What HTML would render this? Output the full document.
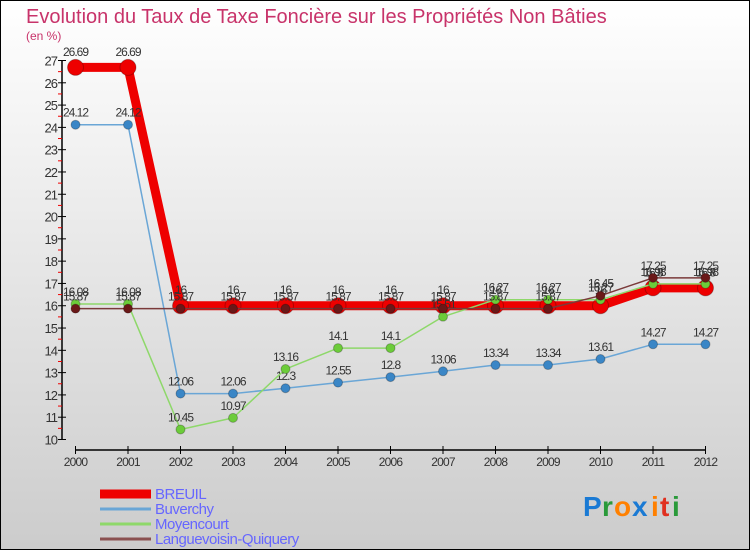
<!DOCTYPE html>
<html><head><meta charset="utf-8"><style>
body{margin:0;width:750px;height:550px;overflow:hidden}
svg{display:block;font-family:"Liberation Sans",sans-serif}
</style></head><body>
<svg width="750" height="550" viewBox="0 0 750 550">
<defs><linearGradient id="bg" x1="0" y1="0" x2="0" y2="1"><stop offset="0" stop-color="#ffffff"/><stop offset="1" stop-color="#cccccc"/></linearGradient></defs>
<rect x="0.5" y="0.5" width="749" height="549" fill="url(#bg)" stroke="#000"/>
<text x="26" y="23" font-size="20" fill="#c8336a">Evolution du Taux de Taxe Foncière sur les Propriétés Non Bâties</text>
<text x="26" y="40" font-size="12" fill="#c8336a">(en %)</text>
<g id="axes"></g>
<g id="series"></g>
<g id="legend"></g>
<g font-size="28" font-weight="bold">
<text x="583" y="516" fill="#1a7ad4">P</text><text x="602" y="516" fill="#2a9a3a">r</text><text x="614" y="516" fill="#ff8000">o</text><text x="632" y="516" fill="#1a7ad4">x</text><text x="651" y="516" fill="#ff8000">i</text><text x="660" y="516" fill="#e03020">t</text><text x="672" y="516" fill="#2a9a3a">i</text>
</g>
</svg>
<script>
const years=["2000","2001","2002","2003","2004","2005","2006","2007","2008","2009","2010","2011","2012"];
const breuil=[26.69,26.69,16,16,16,16,16,16,16,16,16,16.8,16.8];
const buverchy=[24.12,24.12,12.06,12.06,12.3,12.55,12.8,13.06,13.34,13.34,13.61,14.27,14.27];
const moyencourt=[16.08,16.08,10.45,10.97,13.16,14.1,14.1,15.51,16.27,16.27,16.27,16.98,16.98];
const langue=[15.87,15.87,15.87,15.87,15.87,15.87,15.87,15.87,15.87,15.87,16.45,17.25,17.25];
const yTicks=[10,11,12,13,14,15,16,17,18,19,20,21,22,23,24,25,26,27];
const NS="http://www.w3.org/2000/svg";
const X=i=>75.5+i*(705.5-75.5)/12;
const Y=v=>439.5-(v-10)*(379/17);
function mk(t,a,p){const e=document.createElementNS(NS,t);for(const k in a)e.setAttribute(k,a[k]);p.appendChild(e);return e;}
const ax=document.getElementById('axes');
mk('line',{x1:62,y1:Y(27),x2:62,y2:Y(10),stroke:'#000','stroke-width':1.5},ax);
yTicks.forEach(v=>{
 mk('line',{x1:58,x2:66,y1:Y(v),y2:Y(v),stroke:'#000'},ax);
 if(v<27)mk('line',{x1:58,x2:62,y1:Y(v+0.5),y2:Y(v+0.5),stroke:'#e00'},ax);
 const t=mk('text',{x:57,y:Y(v)+5,'font-size':13,'text-anchor':'end',fill:'#333','letter-spacing':'-1'},ax);
 
 
 t.textContent=v;
});
mk('line',{x1:X(0),x2:X(12),y1:450,y2:450,stroke:'#000','stroke-width':1.5},ax);
years.forEach((y,i)=>{
 mk('line',{x1:X(i),x2:X(i),y1:446,y2:454,stroke:'#000'},ax);
 const t=mk('text',{x:X(i),y:466,'font-size':12,'text-anchor':'middle',fill:'#333','letter-spacing':'-0.8'},ax);
 
 
 t.textContent=y;
});
const S=[
 {n:'langue',d:langue,c:'#7a3a3a',w:1.5,r:4.5,f:'#6a1818'},
 {n:'moyencourt',d:moyencourt,c:'#8ed86a',w:1.5,r:4.5,f:'#6ccc3a'},
 {n:'buverchy',d:buverchy,c:'#6aa6d6',w:1.5,r:4.5,f:'#3a86c6'},
 {n:'breuil',d:breuil,c:'#ee0000',w:9,r:8,f:'#ee0000'}
];
const sg=document.getElementById('series');
const order=[3,2,1,0];
order.forEach(k=>{const s=S[k];
 const g=mk('g',{},sg);
 
 
 const p=mk('polyline',{points:s.d.map((v,i)=>X(i)+','+Y(v)).join(' '),fill:'none',stroke:s.c,'stroke-width':s.w,'stroke-linejoin':'round'},g);
 
 
 s.d.forEach((v,i)=>{
  const c=mk('circle',{cx:X(i),cy:Y(v),r:s.r,fill:s.f,stroke:'rgba(0,0,0,0.25)'},g);
  
  
  const t=mk('text',{x:X(i),y:Y(v)-8-(s.r-4.5),'font-size':12,'text-anchor':'middle',fill:'#333','letter-spacing':'-1'},g);
  
  
  t.textContent=v;
 });
});
const lg=document.getElementById('legend');
const names=['BREUIL','Buverchy','Moyencourt','Languevoisin-Quiquery'];
const lc=['#ee0000','#6aa6d6','#8ed86a','#8a5050'];
const lw=[9,3,3,3];
names.forEach((n,i)=>{
 const y=494+i*15;
 mk('line',{x1:100,x2:151,y1:y,y2:y,stroke:lc[i],'stroke-width':lw[i]},lg);
 const t=mk('text',{x:155,y:y+5,'font-size':15,fill:'#6666ff','letter-spacing':'-0.5'},lg);
 
 
 t.textContent=n;
});
</script>
</body></html>
